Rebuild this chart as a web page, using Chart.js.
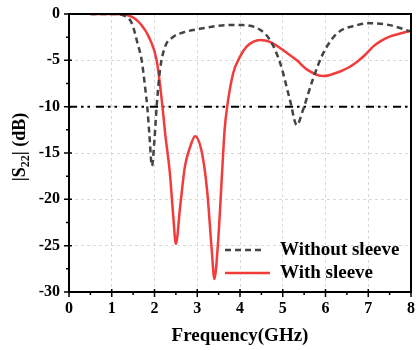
<!DOCTYPE html>
<html>
<head>
<meta charset="utf-8">
<script src="https://cdn.jsdelivr.net/npm/chart.js@4.4.1/dist/chart.umd.min.js"></script>
<style>
  html, body { margin: 0; padding: 0; background: #fff; }
  #wrap { width: 416px; height: 350px; }
</style>
</head>
<body>
<div id="wrap"><canvas id="s22"></canvas></div>
<script>
// Without sleeve
const freqWithout = [0.5, 1.0, 1.3, 1.47, 1.6, 1.7, 1.78, 1.83, 1.88, 1.94, 2.0, 2.05, 2.13, 2.25, 2.43, 2.67, 3.06, 3.7, 4.07, 4.47, 4.7, 4.94, 5.17, 5.33, 5.47, 5.7, 5.95, 6.27, 6.74, 7.04, 7.5, 8.0];
const s22Without = [0, 0, -0.2, -1.0, -3.1, -5.0, -7.9, -10.0, -13.0, -16.4, -13.5, -10.0, -6.0, -3.5, -2.5, -2.0, -1.6, -1.2, -1.2, -1.7, -2.8, -5.3, -9.3, -12.0, -10.4, -7.1, -4.2, -2.1, -1.2, -1.0, -1.2, -1.9];

// With sleeve
const freqWith = [0.5, 1.0, 1.35, 1.66, 1.9, 2.05, 2.17, 2.25, 2.36, 2.44, 2.5, 2.6, 2.71, 2.83, 2.95, 3.11, 3.23, 3.34, 3.4, 3.49, 3.58, 3.64, 3.7, 3.84, 4.0, 4.16, 4.47, 4.7, 5.1, 5.33, 5.57, 5.95, 6.34, 6.55, 6.74, 6.93, 7.12, 7.3, 7.5, 8.0];
const s22With = [0, 0, -0.1, -1.0, -2.8, -5.0, -9.3, -12.9, -17.2, -21.9, -24.8, -20.8, -16.5, -14.4, -13.2, -15.0, -19.0, -25.5, -28.6, -24.4, -17.2, -12.5, -10.0, -6.4, -4.6, -3.5, -2.8, -3.0, -4.2, -5.0, -6.0, -6.7, -6.2, -5.75, -5.15, -4.4, -3.5, -2.9, -2.45, -1.8];

// -10 dB reference
const refFreq = [0, 8];
const refLevel = [-10, -10];

const xTicks = [0, 1, 2, 3, 4, 5, 6, 7, 8];
const yTicks = [0, -5, -10, -15, -20, -25, -30];

const serif = "'Liberation Serif', 'Times New Roman', serif";

function pts(xs, ys) {
    return xs.map((x, i) => ({ x: x, y: ys[i] }));
}

// frame, ticks, tick labels, axis titles, legend
const decorations = {
    id: 'decorations',
    afterDraw(chart) {
        const ctx = chart.ctx;
        const area = chart.chartArea;
        const xs = chart.scales.x;
        const ys = chart.scales.y;
        ctx.save();
        ctx.strokeStyle = '#000';
        ctx.lineWidth = 2;
        ctx.strokeRect(area.left, area.top, area.right - area.left, area.bottom - area.top);

        ctx.lineWidth = 1.5;
        ctx.beginPath();
        for (let v = 0; v <= 8; v += 0.5) {
            const px = xs.getPixelForValue(v);
            const major = Number.isInteger(v);
            ctx.moveTo(px, area.bottom - (major ? 3 : 0));
            ctx.lineTo(px, area.bottom + (major ? 5 : 3));
        }
        for (let v = 0; v >= -30; v -= 2.5) {
            const py = ys.getPixelForValue(v);
            const major = v % 5 === 0;
            ctx.moveTo(area.left + (major ? 3 : 0), py);
            ctx.lineTo(area.left - (major ? 5 : 3), py);
        }
        ctx.stroke();

        ctx.fillStyle = '#000';
        ctx.font = 'bold 16px ' + serif;
        ctx.textAlign = 'center';
        ctx.textBaseline = 'top';
        xTicks.forEach(v => ctx.fillText(String(v), xs.getPixelForValue(v), 301));
        ctx.textAlign = 'right';
        ctx.textBaseline = 'middle';
        yTicks.forEach(v => ctx.fillText(String(v), 60, ys.getPixelForValue(v)));

        ctx.font = 'bold 19px ' + serif;
        ctx.textAlign = 'center';
        ctx.textBaseline = 'alphabetic';
        ctx.fillText('Frequency(GHz)', (area.left + area.right) / 2, 341);

        // |S22| (dB), rotated, with subscript
        const big = 'bold 18px ' + serif;
        const small = 'bold 12px ' + serif;
        ctx.font = big;
        const w1 = ctx.measureText('|S').width;
        const w3 = ctx.measureText('| (dB)').width;
        ctx.font = small;
        const w2 = ctx.measureText('22').width;
        const total = w1 + w2 + w3;
        ctx.translate(25, 147);
        ctx.rotate(-Math.PI / 2);
        ctx.textAlign = 'left';
        let cx = -total / 2;
        ctx.font = big;
        ctx.fillText('|S', cx, 0);
        cx += w1;
        ctx.font = small;
        ctx.fillText('22', cx, 4);
        cx += w2;
        ctx.font = big;
        ctx.fillText('| (dB)', cx, 0);
        ctx.setTransform(1, 0, 0, 1, 0, 0);

        // legend
        const rows = [
            { ds: chart.data.datasets[0], y: 250, x2: 265 },
            { ds: chart.data.datasets[1], y: 273, x2: 270 }
        ];
        ctx.font = 'bold 19px ' + serif;
        ctx.textBaseline = 'middle';
        rows.forEach(r => {
            ctx.beginPath();
            ctx.strokeStyle = r.ds.borderColor;
            ctx.lineWidth = r.ds.borderWidth;
            ctx.setLineDash(r.ds.borderDash || []);
            ctx.moveTo(225, r.y);
            ctx.lineTo(r.x2, r.y);
            ctx.stroke();
            ctx.setLineDash([]);
            ctx.fillStyle = '#000';
            ctx.fillText(r.ds.label, 280, r.y);
        });
        ctx.restore();
    }
};

new Chart(document.getElementById('s22'), {
    type: 'line',
    data: {
        datasets: [{
            label: 'Without sleeve',
            data: pts(freqWithout, s22Without),
            borderColor: '#444444',
            borderWidth: 2.5,
            borderDash: [6, 4],
            cubicInterpolationMode: 'monotone',
            pointRadius: 0,
        }, {
            label: 'With sleeve',
            data: pts(freqWith, s22With),
            borderColor: '#f23b3b',
            borderWidth: 2.5,
            cubicInterpolationMode: 'monotone',
            pointRadius: 0,
        }, {
            label: 'ref',
            data: pts(refFreq, refLevel),
            borderColor: '#000',
            borderWidth: 2,
            borderDash: [8, 4, 2.5, 4, 2.5, 6],
            pointRadius: 0,
        }]
    },
    options: {
        responsive: true,
        maintainAspectRatio: false,
        animation: false,
        layout: {
            padding: { top: 14, right: 5, left: 0, bottom: 0 }
        },
        plugins: {
            legend: { display: false },
            tooltip: { enabled: false },
        },
        scales: {
            x: {
                type: 'linear',
                min: 0,
                max: 8,
                afterFit: (s) => { s.height = 58; },
                afterBuildTicks: (s) => { s.ticks = xTicks.map(v => ({ value: v })); },
                grid: { color: '#d9d9d9', lineWidth: 1, drawTicks: false },
                border: { display: false, dash: [3, 3] },
                ticks: { display: false }
            },
            y: {
                min: -30,
                max: 0,
                afterFit: (s) => { s.width = 69; },
                afterBuildTicks: (s) => { s.ticks = yTicks.map(v => ({ value: v })); },
                grid: { color: '#d9d9d9', lineWidth: 1, drawTicks: false },
                border: { display: false, dash: [3, 3] },
                ticks: { display: false }
            }
        }
    },
    plugins: [decorations]
});
</script>
</body>
</html>
